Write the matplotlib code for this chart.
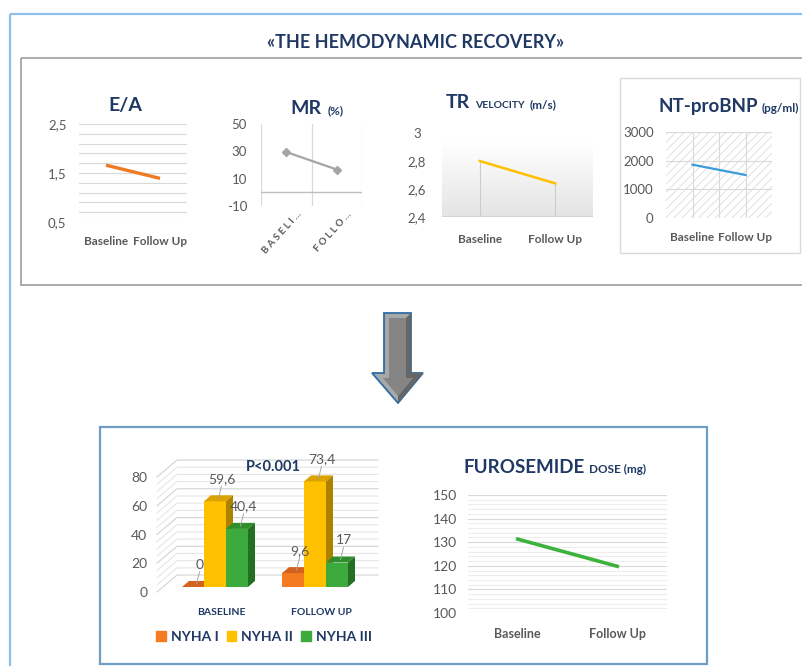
import numpy as np
import matplotlib
matplotlib.use('Agg')
import matplotlib.pyplot as plt
from matplotlib.patches import Rectangle, Polygon, Patch
from matplotlib.colors import LinearSegmentedColormap

plt.rcParams['font.family'] = ['Lato', 'DejaVu Sans']
plt.rcParams['hatch.linewidth'] = 0.6

W, H = 802, 666

# values
periods = ['Baseline', 'Follow Up']
ea = [1.66, 1.39]
mr = [29.5, 16.7]
mr_labels = ['B A S E L I …', 'F O L L O …']
tr_velocity = [2.80, 2.64]
nt_probnp = [1860, 1500]
furosemide = [131.3, 119.8]

nyha_classes = ['NYHA I', 'NYHA II', 'NYHA III']
nyha_periods = ['BASELINE', 'FOLLOW UP']
nyha_baseline = [0, 59.6, 40.4]
nyha_followup = [9.6, 73.4, 17]

NAVY = '#1F3864'
TICK = '#595959'
GRID = '#D9D9D9'

fig = plt.figure(figsize=(W / 100, H / 100), dpi=100)
fig.patch.set_facecolor('white')


def px_axes(x0, y0, x1, y1):
    ax = fig.add_axes([x0 / W, 1 - y1 / H, (x1 - x0) / W, (y1 - y0) / H])
    ax.set_facecolor('none')
    for s in ax.spines.values():
        s.set_visible(False)
    ax.tick_params(length=0, colors=TICK, labelsize=9.5)
    return ax


# overlay in pixel units for frames, arrow and titles
bg = fig.add_axes([0, 0, 1, 1])
bg.set_xlim(0, W)
bg.set_ylim(H, 0)
bg.axis('off')

bg.add_patch(Rectangle((10, 14), 820, 700, fill=False, ec='#8DC0EA', lw=1.6))
bg.add_patch(Rectangle((21, 58), 800, 227, fill=False, ec='#A6A6A6', lw=1.3))
bg.add_patch(Rectangle((620, 78), 180, 175, fill=False, ec='#DADADA', lw=1))
bg.add_patch(Rectangle((100, 427), 607, 237, fill=False, ec='#6E9DC6', lw=1.6))

# arrow
outer = [(384, 313), (411, 313), (411, 373), (423, 373), (398, 403), (372, 373), (384, 373)]
inner = [(389, 318), (406, 318), (406, 378), (413, 378), (398, 396), (383, 378), (389, 378)]
bg.add_patch(Polygon(outer, closed=True, fc='#A8A8A8', ec='#2E6DA4', lw=1.3))
bg.add_patch(Polygon(inner, closed=True, fc='#858585', ec='none'))
bg.add_patch(Polygon([(406, 318), (411, 313), (411, 373), (423, 373), (398, 403), (398, 396),
                      (413, 378), (406, 378)], closed=True, fc='#666666', ec='none'))

bg.text(416, 43, '«THE HEMODYNAMIC RECOVERY»', ha='center', va='center',
        fontsize=13, fontweight='bold', color=NAVY)


def rich_title(xc, y, parts, gap=6):
    r = fig.canvas.get_renderer()
    texts = []
    for s, size in parts:
        texts.append(bg.text(0, y, s, fontsize=size, fontweight='bold', color=NAVY,
                             ha='left', va='baseline'))
    widths = [t.get_window_extent(r).width for t in texts]
    x = xc - (sum(widths) + gap * (len(texts) - 1)) / 2
    for t, w in zip(texts, widths):
        t.set_x(x)
        x += w + gap


rich_title(125, 111, [('E/A', 14)])
rich_title(317, 114, [('MR', 14), ('(%)', 8.5)], gap=7)
rich_title(501, 108, [('TR', 14), ('VELOCITY', 7.5), ('(m/s)', 8.5)], gap=5)
rich_title(729, 112, [('NT-proBNP', 13.5), ('(pg/ml)', 8.5)], gap=4)
rich_title(555, 473, [('FUROSEMIDE', 13.5), ('DOSE (mg)', 8.5)], gap=4)

x = np.arange(len(periods))

# E/A
ax = px_axes(79, 124, 187, 222)
ax.set_xlim(-0.5, 1.5)
ax.set_ylim(0.5, 2.5)
for v in np.arange(0.5, 2.51, 0.2):
    ax.axhline(v, color=GRID, lw=0.8, zorder=0)
ax.plot(x, ea, color='#F07A24', lw=2.4, solid_capstyle='butt')
ax.set_yticks([0.5, 1.5, 2.5], ['0,5', '1,5', '2,5'])
ax.set_xticks(x, periods, fontweight='bold', fontsize=8.5)
ax.tick_params(axis='y', pad=9)
ax.tick_params(axis='x', pad=10)

# MR
ax = px_axes(261, 124, 362, 206)
ax.set_xlim(-0.5, 1.5)
ax.set_ylim(-10, 50)
for v in [-0.5, 0.5, 1.5]:
    ax.axvline(v, color=GRID, lw=0.9, zorder=0)
ax.axhline(0, color='#BFBFBF', lw=1, zorder=1)
ax.plot(x, mr, color='#A5A5A5', lw=1.6, marker='D', ms=4.5)
ax.set_yticks([-10, 10, 30, 50], ['-10', '10', '30', '50'])
ax.tick_params(axis='y', pad=10)
ax.set_xticks([])
for i, lab in enumerate(mr_labels):
    ax.text(i + 0.2, -0.04, lab, transform=ax.get_xaxis_transform(), rotation=48,
            rotation_mode='anchor', ha='right', va='top', fontsize=7,
            fontweight='bold', color=TICK)

# TR velocity
ax = px_axes(442, 133, 593, 217)
grad = LinearSegmentedColormap.from_list('g', ['#E4E4E4', '#FFFFFF'])
ax.imshow(np.linspace(0, 1, 100).reshape(-1, 1), extent=(-0.5, 1.5, 2.4, 2.935),
          cmap=grad, aspect='auto', origin='lower', zorder=0)
ax.set_xlim(-0.5, 1.5)
ax.set_ylim(2.4, 3.0)
ax.axhline(2.4, color='#D0D0D0', lw=1.2)
ax.vlines(x, 2.4, tr_velocity, color='#CCCCCC', lw=0.8)
ax.plot(x, tr_velocity, color='#FFC000', lw=1.8)
ax.set_yticks([2.4, 2.6, 2.8, 3.0], ['2,4', '2,6', '2,8', '3'])
for lbl in ax.get_yticklabels():
    lbl.set_ha('center')
ax.tick_params(axis='y', pad=18)
ax.set_xticks(x, periods, fontweight='bold', fontsize=8.5)
ax.tick_params(axis='x', pad=12)

# NT-proBNP
ax = px_axes(666, 132, 772, 218)
ax.set_xlim(-0.5, 1.5)
ax.set_ylim(0, 3000)
ax.add_patch(Rectangle((0, 0), 1, 1, transform=ax.transAxes, fill=False,
                       hatch='////', ec='#DCDCDC', lw=0, zorder=0))
for v in [1000, 2000, 3000]:
    ax.axhline(v, color=GRID, lw=0.8, zorder=0)
for v in [0, 0.5, 1]:
    ax.axvline(v, color=GRID, lw=0.8, zorder=0)
ax.plot(x, nt_probnp, color='#3C9BDC', lw=1.6)
ax.set_yticks([0, 1000, 2000, 3000], ['0', '1000', '2000', '3000'])
ax.tick_params(axis='y', pad=9)
ax.set_xticks(x, periods, fontweight='bold', fontsize=8.5)
ax.tick_params(axis='x', pad=10)

# furosemide dose
ax = px_axes(468, 495, 667, 613)
ax.set_xlim(-0.5, 1.5)
ax.set_ylim(100, 150)
for v in np.arange(100, 151, 2):
    ax.axhline(v, color='#D9D9D9' if v % 10 == 0 else '#EDEDED', lw=0.8, zorder=0)
ax.plot(x, furosemide, color='#3DB33D', lw=2.6)
ax.set_yticks(np.arange(100, 151, 10))
ax.tick_params(axis='y', pad=8, labelsize=10)
ax.set_xticks(x, periods, fontweight='bold', fontsize=9)
ax.tick_params(axis='x', pad=11)

# NYHA class, 3D-looking clustered bars
ax = px_axes(157, 477, 358, 592)
ax.set_xlim(-0.52, 1.49)
ax.set_ylim(0, 80)
ax.set_xticks([])
ax.set_yticks([0, 20, 40, 60, 80])
ax.tick_params(axis='y', pad=7, labelsize=10)

DX, DY = 0.2, 11.8        # wall depth
OX, OY = 0.06, 3.5        # bars sit slightly back
BX, BY = 0.07, 4.2        # bar depth
bw = 0.22
x0, x1 = ax.get_xlim()
for v in range(0, 81, 5):
    ax.plot([x0, x0 + DX, x1 + DX], [v, v + DY, v + DY], color='#D3D3D3' if v % 20 == 0 else '#E6E6E6',
            lw=0.8, clip_on=False, zorder=0)

front = ['#F47B20', '#FFC000', '#3DAA3D']
top = ['#D4611C', '#DBA200', '#2F8F2F']
side = ['#B4500F', '#AD8200', '#236F23']
nyha = np.array([nyha_baseline, nyha_followup])
offsets = [-bw, 0, bw]
for k in range(len(nyha_classes)):
    for i in range(len(nyha_periods)):
        v = nyha[i, k]
        xl = i + offsets[k] + OX - bw / 2
        xr = xl + bw
        ax.bar(xl, v, width=bw, bottom=OY, align='edge', color=front[k], zorder=2 + k, clip_on=False)
        ax.add_patch(Polygon([(xl, OY + v), (xr, OY + v), (xr + BX, OY + v + BY), (xl + BX, OY + v + BY)],
                             closed=True, fc=top[k], ec='none', zorder=2 + k, clip_on=False))
        ax.add_patch(Polygon([(xr, OY), (xr, OY + v), (xr + BX, OY + v + BY), (xr + BX, OY + BY)],
                             closed=True, fc=side[k], ec='none', zorder=2 + k, clip_on=False))
        xc = (xl + xr) / 2 + BX / 2
        ax.plot([xc, xc + 0.03], [OY + v + BY / 2, OY + v + 10.5], color='#A6A6A6', lw=0.7,
                zorder=6, clip_on=False)
        ax.text(xc + 0.03, OY + v + 15.5, f'{v:g}'.replace('.', ','), ha='center', va='center',
                fontsize=10, color=TICK, zorder=7, clip_on=False)

for i, name in enumerate(nyha_periods):
    ax.text(i + 0.12, -14.5, name, ha='center', va='center', fontsize=7.5,
            fontweight='bold', color=NAVY, clip_on=False)

fig.text(273 / W, 1 - 467 / H, 'P<0.001', ha='center', va='center', fontsize=10.5,
         fontweight='bold', color=NAVY, zorder=10)

handles = [Patch(color=c, label=n) for c, n in zip(front, nyha_classes)]
fig.legend(handles=handles, ncol=3, loc='center', bbox_to_anchor=(264 / W, 1 - 637 / H),
           frameon=False, prop={'weight': 'bold', 'size': 10}, labelcolor=NAVY,
           handlelength=0.7, handleheight=0.7, handletextpad=0.35, columnspacing=0.6)

fig.savefig('out.png', dpi=100)
